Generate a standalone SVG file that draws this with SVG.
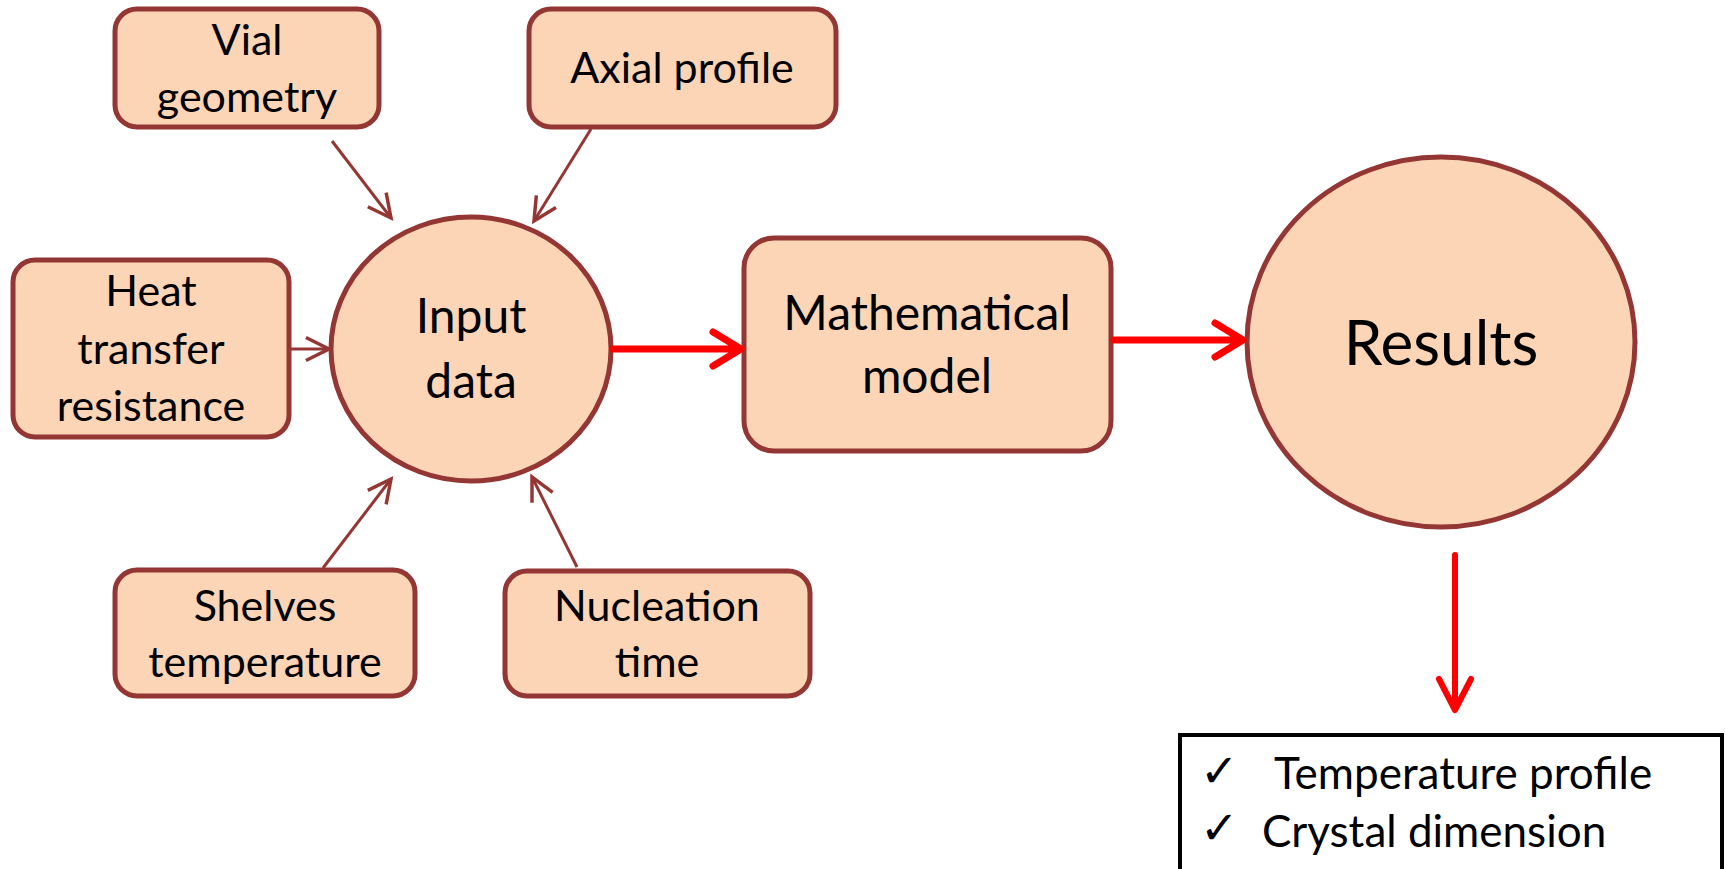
<svg xmlns="http://www.w3.org/2000/svg" width="1725" height="869" viewBox="0 0 1725 869">
<defs>
<style>
.node{fill:#FBD5B5;stroke:#943634;stroke-width:5}
.t{font-family:Lato,"Open Sans","Liberation Sans",sans-serif;fill:#000;text-anchor:middle}
.s{font-size:43px}
.m{font-size:48px}
.b{font-size:62px}
.ck{font-family:"DejaVu Sans",sans-serif;font-size:46px;fill:#000}
.conn{fill:none;stroke:#943634;stroke-width:3}
.red{fill:none;stroke:#FF0000;stroke-width:7;stroke-linecap:round;stroke-linejoin:round}
</style>
<marker id="ah" markerUnits="userSpaceOnUse" markerWidth="30" markerHeight="30" viewBox="-22 -12 26 24" refX="0" refY="0" orient="auto">
<path d="M-20,-10 L0,0 L-20,10" fill="none" stroke="#943634" stroke-width="3"/>
</marker>
</defs>
<rect width="1725" height="869" fill="#fff"/>

<g id="vial">
<rect class="node" x="115" y="9" width="264" height="118" rx="22"/>
<text class="t s" x="247" y="55">Vial</text>
<text class="t s" x="247" y="112">geometry</text>
</g>
<g id="axial">
<rect class="node" x="529" y="9" width="307" height="118" rx="22"/>
<text class="t s" x="682" y="83">Axial profile</text>
</g>
<g id="heat">
<rect class="node" x="13" y="260" width="276" height="177" rx="22"/>
<text class="t s" x="151" y="306">Heat</text>
<text class="t s" x="151" y="364">transfer</text>
<text class="t s" x="151" y="421">resistance</text>
</g>
<g id="input">
<ellipse class="node" cx="471" cy="349" rx="140" ry="132"/>
<text class="t m" x="471" y="333">Input</text>
<text class="t m" x="471" y="398">data</text>
</g>
<g id="model">
<rect class="node" x="744" y="238" width="367" height="213" rx="30"/>
<text class="t m" x="927" y="330">Mathematical</text>
<text class="t m" x="927" y="393">model</text>
</g>
<g id="results">
<ellipse class="node" cx="1441" cy="342" rx="194" ry="185"/>
<text class="t b" x="1441" y="365">Results</text>
</g>
<g id="shelves">
<rect class="node" x="115" y="570" width="300" height="126" rx="22"/>
<text class="t s" x="265" y="621">Shelves</text>
<text class="t s" x="265" y="677">temperature</text>
</g>
<g id="nucleation">
<rect class="node" x="505" y="571" width="305" height="125" rx="22"/>
<text class="t s" x="657" y="621">Nucleation</text>
<text class="t s" x="657" y="677">time</text>
</g>
<g id="output">
<rect x="1180" y="735" width="542" height="140" fill="#fff" stroke="#000" stroke-width="4"/>
<text class="ck" x="1200" y="787">✓</text>
<text class="ck" x="1200" y="844">✓</text>
<text class="t s" x="1274" y="789" style="text-anchor:start;font-size:44px">Temperature profile</text>
<text class="t s" x="1262" y="847" style="text-anchor:start;font-size:44px">Crystal dimension</text>
</g>

<g id="connectors">
<line class="conn" x1="332" y1="141" x2="391" y2="218" marker-end="url(#ah)"/>
<line class="conn" x1="591" y1="129" x2="534" y2="221" marker-end="url(#ah)"/>
<line class="conn" x1="289" y1="349" x2="329" y2="349" marker-end="url(#ah)"/>
<line class="conn" x1="323" y1="568" x2="391" y2="479" marker-end="url(#ah)"/>
<line class="conn" x1="577" y1="567" x2="532" y2="477" marker-end="url(#ah)"/>
<path class="red" d="M613,349 L740,349 M713,332 L741,349 L713,366"/>
<path class="red" d="M1114,340 L1243,340 M1215,323 L1243,340 L1215,357"/>
<path class="red" d="M1455,555 L1455,708 M1439,679 L1455,710 L1471,679" style="stroke-width:6"/>
</g>
</svg>
